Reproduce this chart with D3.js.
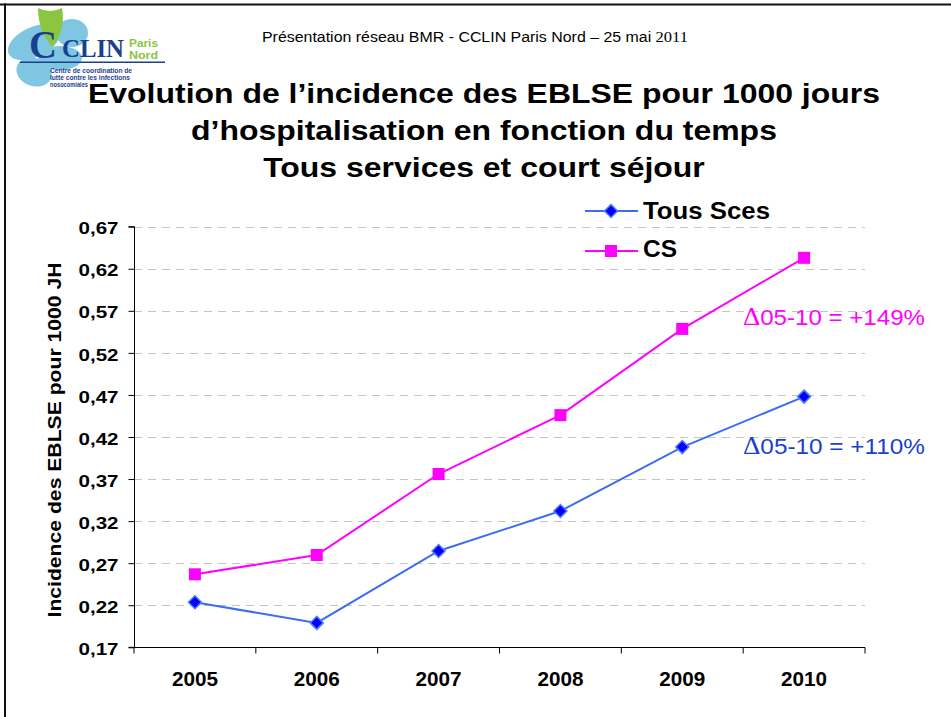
<!DOCTYPE html>
<html><head><meta charset="utf-8">
<script src="https://cdn.jsdelivr.net/npm/d3@7"></script>
<style>body{margin:0;background:#fff}svg{display:block}</style>
</head><body>
<svg id="c" width="951" height="717"></svg>
<script>
const years = ["2005","2006","2007","2008","2009","2010"];
const tousSces = [0.2235, 0.199, 0.2845, 0.332, 0.408, 0.468];
const cs = [0.2568, 0.2797, 0.376, 0.446, 0.5485, 0.633];
const yTicks = [0.17,0.22,0.27,0.32,0.37,0.42,0.47,0.52,0.57,0.62,0.67];
const seriesNames = ["Tous Sces","CS"];
const annotations = ["05-10 = +149%","05-10 = +110%"];

const svg = d3.select("#c");
const F = "'Liberation Sans', Arial, sans-serif";

// slide border
svg.append("rect").attr("x",0).attr("y",3.5).attr("width",951).attr("height",2).attr("fill","#111");
svg.append("rect").attr("x",4).attr("y",3.5).attr("width",2).attr("height",714).attr("fill","#111");

// logo
const lg = svg.append("g");
const blue = "#7fc6e2";
lg.append("ellipse").attr("cx",34).attr("cy",42).attr("rx",28).attr("ry",15).attr("fill",blue).attr("transform","rotate(-25,34,42)");
lg.append("ellipse").attr("cx",72).attr("cy",33).attr("rx",16).attr("ry",14).attr("fill",blue);
lg.append("ellipse").attr("cx",34).attr("cy",72).attr("rx",18).attr("ry",14).attr("fill",blue).attr("transform","rotate(20,34,72)");
lg.append("ellipse").attr("cx",60).attr("cy",58).attr("rx",22).attr("ry",12).attr("fill",blue);
lg.append("path").attr("d","M38,8 Q50,14 62,8 Q66,30 52,47 Q38,30 38,8Z").attr("fill","#8cc540");
lg.append("text").attr("x",29).attr("y",58).attr("font-family","'Liberation Serif', serif").attr("font-weight","bold").attr("font-size",40).attr("fill","#1b3f8f").attr("textLength",28).attr("lengthAdjust","spacingAndGlyphs").text("C");
lg.append("text").attr("x",62).attr("y",57).attr("font-family","'Liberation Serif', serif").attr("font-weight","bold").attr("font-size",25).attr("fill","#1b3f8f").attr("textLength",62).attr("lengthAdjust","spacingAndGlyphs").text("CLIN");
lg.append("text").attr("x",129).attr("y",47).attr("font-family",F).attr("font-weight","bold").attr("font-size",10).attr("fill","#8cc540").attr("textLength",29).attr("lengthAdjust","spacingAndGlyphs").text("Paris");
lg.append("text").attr("x",129).attr("y",58.5).attr("font-family",F).attr("font-weight","bold").attr("font-size",10).attr("fill","#8cc540").attr("textLength",29).attr("lengthAdjust","spacingAndGlyphs").text("Nord");
lg.append("rect").attr("x",20).attr("y",61.5).attr("width",145).attr("height",1.5).attr("fill","#1b3f8f");
[["Centre de coordination de",82],["lutte contre les infections",80],["nosocomiales",38]].forEach((t,i)=>{
  lg.append("text").attr("x",50).attr("y",73+i*7).attr("font-family",F).attr("font-weight","bold").attr("font-size",6.8).attr("fill","#1b3f8f")
    .attr("textLength",t[1]).attr("lengthAdjust","spacingAndGlyphs").text(t[0]);
});

// header
const hd = svg.append("text").attr("x",262).attr("y",42).attr("font-family",F).attr("font-size",14).attr("fill","#000")
  .attr("textLength",426).attr("lengthAdjust","spacingAndGlyphs");
hd.append("tspan").text("Présentation réseau BMR - CCLIN Paris Nord – 25 mai ");
hd.append("tspan").attr("font-family","'Liberation Serif', 'Times New Roman', serif").attr("font-size",14.5).text("2011");

// title
const titles = ["Evolution de l’incidence des EBLSE pour 1000 jours","d’hospitalisation en fonction du temps","Tous services et court séjour"];
let tFactor = 1;
titles.forEach((t,i)=>{
  const el = svg.append("text").attr("x",484).attr("y",102.5+i*37).attr("text-anchor","middle").attr("font-family",F)
    .attr("font-weight","bold").attr("font-size",28.5).attr("fill","#000").text(t);
  const w = el.node().getComputedTextLength();
  if (i===0) tFactor = 792/w;
  el.attr("textLength", w*tFactor).attr("lengthAdjust","spacingAndGlyphs");
});

// scales
const x = d3.scaleBand().domain(years).range([134,865]);
const y = d3.scaleLinear().domain([0.17,0.67]).range([647.3,226.7]);

// gridlines
svg.append("g").selectAll("line").data(yTicks.slice(1)).join("line")
  .attr("x1",134).attr("x2",865).attr("y1",d=>Math.round(y(d))+0.5).attr("y2",d=>Math.round(y(d))+0.5)
  .attr("stroke","#c4c4c4").attr("stroke-width",1.2).attr("stroke-dasharray","8,6");

// y axis
const yAxis = d3.axisLeft(y).tickValues(yTicks).tickSize(6).tickPadding(10)
  .tickFormat(d=>d3.format(".2f")(d).replace(".",","));
const ya = svg.append("g").attr("transform","translate(134.5,0)").call(yAxis);
ya.selectAll("text").attr("font-family",F).attr("font-weight","bold").attr("font-size",17).attr("fill","#000")
  .attr("dy","0.42em").attr("textLength",40).attr("lengthAdjust","spacingAndGlyphs");
ya.selectAll("line").attr("stroke","#000");
ya.select(".domain").attr("stroke","#000").attr("d","M-6,"+y(0.67)+"H0V"+y(0.17)+"H-6");

// x axis
const xa = svg.append("g").attr("transform","translate(0,"+(Math.round(y(0.17))+0.5)+")");
xa.append("line").attr("x1",134).attr("x2",865).attr("stroke","#000");
xa.selectAll("line.t").data(years.concat(["end"])).join("line").attr("class","t")
  .attr("x1",(d,i)=>134+i*x.bandwidth()).attr("x2",(d,i)=>134+i*x.bandwidth()).attr("y1",0).attr("y2",6).attr("stroke","#000");
xa.selectAll("text").data(years).join("text").attr("x",d=>x(d)+x.bandwidth()/2).attr("y",38)
  .attr("text-anchor","middle").attr("font-family",F).attr("font-weight","bold").attr("font-size",20)
  .attr("textLength",46).attr("lengthAdjust","spacingAndGlyphs").text(d=>d);

// y label
svg.append("text").attr("transform","translate(61,440) rotate(-90)").attr("text-anchor","middle")
  .attr("font-family",F).attr("font-weight","bold").attr("font-size",18)
  .attr("textLength",355).attr("lengthAdjust","spacingAndGlyphs").text("Incidence des EBLSE pour 1000 JH");

const cx = d=>x(d)+x.bandwidth()/2;
const line = d3.line().x((d,i)=>cx(years[i])).y(d=>y(d));

// CS
svg.append("path").datum(cs).attr("d",line).attr("fill","none").attr("stroke","#ff00ff").attr("stroke-width",2);
svg.append("g").selectAll("rect").data(cs).join("rect")
  .attr("x",(d,i)=>cx(years[i])-6).attr("y",d=>y(d)-6).attr("width",12).attr("height",12).attr("fill","#ff00ff");

// Tous Sces
svg.append("path").datum(tousSces).attr("d",line).attr("fill","none").attr("stroke","#3c6df0").attr("stroke-width",2);
const diamond = (px,py,r)=>`M${px},${py-r}L${px+r},${py}L${px},${py+r}L${px-r},${py}Z`;
svg.append("g").selectAll("path").data(tousSces).join("path")
  .attr("d",(d,i)=>diamond(cx(years[i]),y(d),6.5)).attr("fill","#0000ff").attr("stroke","#4d7cff").attr("stroke-width",1.5);

// legend
const leg = svg.append("g");
leg.append("line").attr("x1",585).attr("x2",638).attr("y1",211).attr("y2",211).attr("stroke","#3c6df0").attr("stroke-width",2);
leg.append("path").attr("d",diamond(611,211,6.5)).attr("fill","#0000ff").attr("stroke","#4d7cff").attr("stroke-width",1.5);
leg.append("line").attr("x1",585).attr("x2",638).attr("y1",251).attr("y2",251).attr("stroke","#ff00ff").attr("stroke-width",2);
leg.append("rect").attr("x",605).attr("y",245).attr("width",12).attr("height",12).attr("fill","#ff00ff");
leg.append("text").attr("x",643).attr("y",218.5).attr("font-family",F).attr("font-weight","bold").attr("font-size",23)
  .attr("textLength",127).attr("lengthAdjust","spacingAndGlyphs").text(seriesNames[0]);
leg.append("text").attr("x",643).attr("y",257).attr("font-family",F).attr("font-weight","bold").attr("font-size",23)
  .attr("textLength",34).attr("lengthAdjust","spacingAndGlyphs").text(seriesNames[1]);

// annotations
const annColors = ["#ff00ff","#1a3fd0"];
const annY = [325,454];
annotations.forEach((t,i)=>{
  const tx = svg.append("text").attr("x",743).attr("y",annY[i]).attr("font-family",F).attr("font-size",22.5).attr("fill",annColors[i])
    .attr("textLength",182).attr("lengthAdjust","spacingAndGlyphs");
  tx.append("tspan").attr("font-family","'Liberation Serif', serif").attr("font-size",25).text("Δ");
  tx.append("tspan").text(t);
});
</script>
</body></html>
